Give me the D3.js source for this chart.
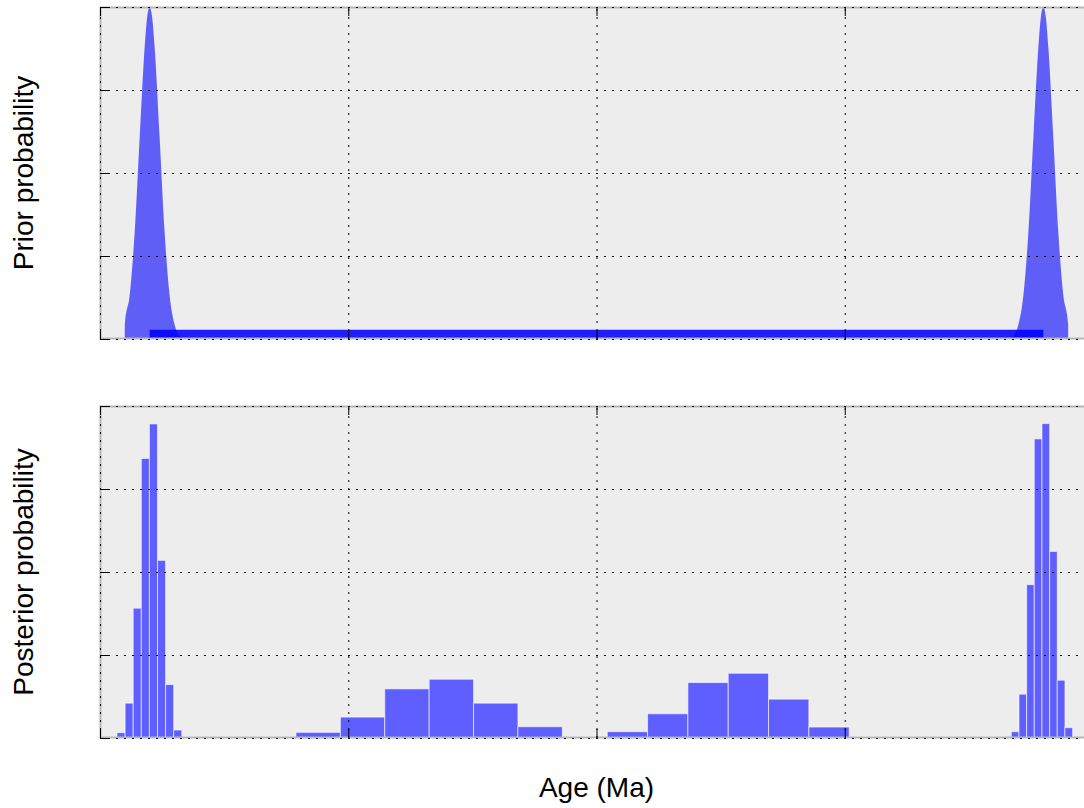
<!DOCTYPE html>
<html>
<head>
<meta charset="utf-8">
<script src="https://cdn.jsdelivr.net/npm/d3@7"></script>
<style>
  body { margin: 0; background: #fff; overflow: hidden; }
  text { font-family: "Liberation Sans", Arial, sans-serif; }
</style>
</head>
<body>
<div id="chart"></div>
<script>

// axis ticks (no labels are printed, only the grid)
var ageTicks = [0, 100, 200, 300, 400];
var probTicks = [0, 0.25, 0.5, 0.75, 1];

// prior: two truncated bell curves (ages in Ma, relative density)
var priorLowAge  = [9.99, 10, 12, 14, 16, 18, 19, 20, 21, 22, 24, 26, 28, 30, 32, 34];
var priorLowDens = [0, 0.045, 0.135, 0.325, 0.61, 0.88, 0.97, 1.0, 0.97, 0.88, 0.61, 0.325, 0.135, 0.045, 0.01, 0];
var priorHighAge  = [366, 368, 370, 372, 374, 376, 378, 379, 380, 381, 382, 384, 386, 388, 390, 390.01];
var priorHighDens = [0, 0.01, 0.045, 0.135, 0.325, 0.61, 0.88, 0.97, 1.0, 0.97, 0.88, 0.61, 0.325, 0.135, 0.045, 0];
// flat prior between the two constraints
var priorFlatAge  = [20, 380];
var priorFlatDens = [0.028, 0.028];

// posterior histograms: bin edges (Ma) and density per bin
var postEdges1 = [6.85, 10.11, 13.37, 16.64, 19.90, 23.16, 26.42, 29.69, 32.95];
var postDens1  = [0.016, 0.105, 0.391, 0.842, 0.946, 0.535, 0.161, 0.024];
var postEdges2 = [78.95, 96.83, 114.71, 132.59, 150.47, 168.35, 186.23];
var postDens2  = [0.017, 0.063, 0.148, 0.177, 0.105, 0.034];
var postEdges3 = [204.34, 220.58, 236.82, 253.06, 269.30, 285.54, 301.78, 318.02];
var postDens3  = [0.019, 0.073, 0.167, 0.195, 0.117, 0.033, 0.003];
var postEdges4 = [367.08, 370.18, 373.28, 376.34, 379.44, 382.54, 385.60, 388.70, 391.80];
var postDens4  = [0.019, 0.132, 0.462, 0.901, 0.947, 0.562, 0.174, 0.031];

var svgWidth = 1084, svgHeight = 808;
var chartMargin = { left: 100 };
var plotW = 993, plotH = 332;
var panelTops = [7, 406];

var svg = d3.select("#chart")
    .append("svg")
    .attr("width", svgWidth)
    .attr("height", svgHeight);

var x = d3.scaleLinear().domain([0, 400]).range([0, plotW]);
var y = d3.scaleLinear().domain([0, 1]).range([plotH, 0]);

function makePanel(top) {
    var g = svg.append("g")
        .attr("transform", `translate(${chartMargin.left}, ${top})`);
    g.append("rect")
        .attr("width", plotW)
        .attr("height", plotH)
        .attr("fill", "#ededed");
    return g;
}

// grid, frame and inward ticks go on top of the data
function decorate(g) {
    g.append("rect")
        .attr("x", 0.5).attr("y", 0.5)
        .attr("width", plotW - 1).attr("height", plotH - 1)
        .attr("fill", "none")
        .attr("stroke", "#b8b8b8")
        .attr("stroke-width", 2);

    var gx = g.append("g").attr("class", "grid")
        .attr("transform", `translate(0, ${plotH})`)
        .call(d3.axisBottom(x).tickValues(ageTicks).tickSize(-plotH).tickFormat(""));
    var gy = g.append("g").attr("class", "grid")
        .call(d3.axisLeft(y).tickValues(probTicks).tickSize(-plotW).tickFormat(""));
    g.selectAll(".grid .domain").remove();
    g.selectAll(".grid line")
        .attr("stroke", "#000")
        .attr("stroke-dasharray", "2,6");

    var tickAxes = [
        g.append("g").attr("transform", `translate(0, ${plotH})`)
            .call(d3.axisBottom(x).tickValues(ageTicks).tickSizeInner(-9).tickSizeOuter(0).tickFormat("")),
        g.append("g")
            .call(d3.axisTop(x).tickValues(ageTicks).tickSizeInner(-9).tickSizeOuter(0).tickFormat("")),
        g.append("g")
            .call(d3.axisLeft(y).tickValues(probTicks).tickSizeInner(-9).tickSizeOuter(0).tickFormat(""))
    ];
    tickAxes.forEach(function (a) {
        a.select(".domain").remove();
        a.selectAll("line").attr("stroke", "#000");
    });
}

// ---- top panel: prior ----
var prior = makePanel(panelTops[0]);

var area = d3.area()
    .x(d => x(d[0]))
    .y0(y(0))
    .y1(d => y(d[1]))
    .curve(d3.curveMonotoneX);

[d3.zip(priorLowAge, priorLowDens), d3.zip(priorHighAge, priorHighDens)].forEach(function (pts) {
    prior.append("path")
        .datum(pts)
        .attr("d", area)
        .attr("fill", "#0000ff")
        .attr("fill-opacity", 0.6);
});

prior.append("path")
    .datum(d3.zip(priorFlatAge, priorFlatDens))
    .attr("d", area.curve(d3.curveLinear))
    .attr("fill", "#0000ff")
    .attr("fill-opacity", 0.88);

decorate(prior);

// ---- bottom panel: posterior ----
var post = makePanel(panelTops[1]);

var hists = [
    [postEdges1, postDens1],
    [postEdges2, postDens2],
    [postEdges3, postDens3],
    [postEdges4, postDens4]
];

hists.forEach(function (h) {
    var edges = h[0], dens = h[1];
    var bins = dens.map((v, i) => ({ x0: edges[i], x1: edges[i + 1], v: v }));
    post.append("g")
        .selectAll("rect")
        .data(bins)
        .enter()
        .append("rect")
        .attr("x", d => x(d.x0))
        .attr("y", d => y(d.v))
        .attr("width", d => x(d.x1) - x(d.x0))
        .attr("height", d => y(0) - y(d.v))
        .attr("fill", "#5f5fff")
        .attr("stroke", "#ffffff")
        .attr("stroke-opacity", 0.6)
        .attr("stroke-width", 1);
});

decorate(post);

// ---- axis titles ----
svg.append("text")
    .attr("transform", `translate(33, ${panelTops[0] + plotH / 2}) rotate(-90)`)
    .attr("text-anchor", "middle")
    .attr("font-size", "28px")
    .text("Prior probability");

svg.append("text")
    .attr("transform", `translate(33, ${panelTops[1] + plotH / 2}) rotate(-90)`)
    .attr("text-anchor", "middle")
    .attr("font-size", "28px")
    .text("Posterior probability");

svg.append("text")
    .attr("x", chartMargin.left + plotW / 2)
    .attr("y", 797)
    .attr("text-anchor", "middle")
    .attr("font-size", "28px")
    .text("Age (Ma)");

</script>
</body>
</html>
